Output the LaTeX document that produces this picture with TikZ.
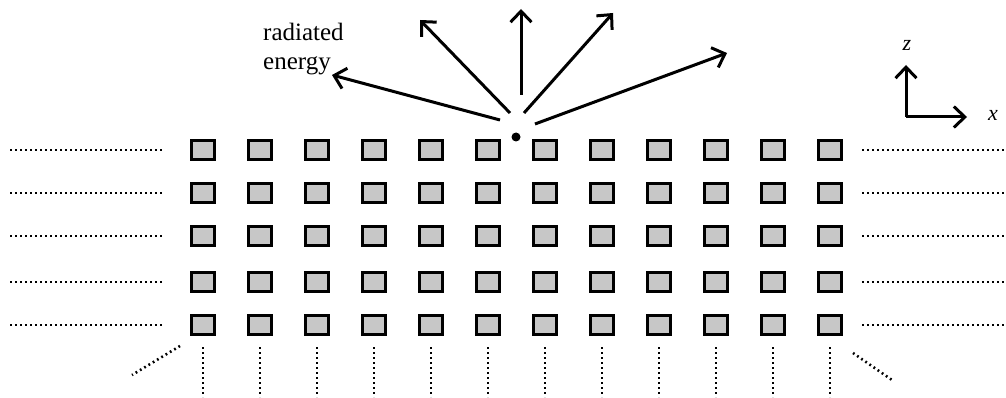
\documentclass[tikz,border=0pt]{standalone}
\usepackage{fontspec}
\setmainfont{Liberation Serif}
\usetikzlibrary{positioning, arrows.meta}

\tikzset{
  cell/.style={draw, line width=3.2pt, fill=black!22, minimum width=23pt, minimum height=19pt, inner sep=0pt},
  ray/.style={line width=3pt, -{Straight Barb[length=11pt,width=21pt,line width=3pt]}},
  more/.style={line width=2.6pt, dash pattern=on 1.8pt off 3.2pt},
}

\begin{document}
\begin{tikzpicture}[x=1pt, y=-1pt]
  \useasboundingbox[fill=white] (0,0) rectangle (1006,398);

  % array of elements
  \foreach \r/\y in {1/150,2/193,3/236,4/282,5/325} {
    \foreach \c in {1,...,12}
      \node[cell] (c\r-\c) at ({146+57*\c},\y) {};
    \draw[more] (10,\y) -- ([xshift=-28pt]c\r-1.west);
    \draw[more] ([xshift=19pt]c\r-12.east) -- (1004,\y);
  }
  \foreach \c in {1,...,12}
    \draw[more] ([yshift=-11pt]c5-\c.south) -- ++(0,50);
  \draw[more] (180,346) -- (132,375);
  \draw[more] (853,353) -- (892,380);

  % radiating source
  \node[circle, fill, inner sep=0pt, minimum size=9pt] (src) at (516,137) {};
  \coordinate (t1) at (332,75);
  \coordinate (t2) at (420,20);
  \coordinate (t3) at (521,9);
  \coordinate (t4) at (613,13);
  \coordinate (t5) at (727,53);
  \draw[ray] ([shift={(-16,-17)}]src.center) -- (t1);
  \draw[ray] ([shift={(-6,-24)}]src.center) -- (t2);
  \draw[ray] ([shift={(5,-42)}]src.center) -- (t3);
  \draw[ray] ([shift={(8,-24)}]src.center) -- (t4);
  \draw[ray] ([shift={(19,-13)}]src.center) -- (t5);
  \node[anchor=north west, inner sep=0pt, align=left, font=\fontsize{25}{29}\selectfont] (lbl) at (263,23) {radiated\\energy};

  % axes
  \coordinate (o) at (906,117);
  \node[font=\fontsize{22}{24}\selectfont\itshape] (z) at (907,45) {z};
  \node[font=\fontsize{22}{24}\selectfont\itshape] (x) at (993,115) {x};
  \draw[ray] (o) -- (906,65);
  \draw[ray] (o) -- (967,117);
\end{tikzpicture}
\end{document}
